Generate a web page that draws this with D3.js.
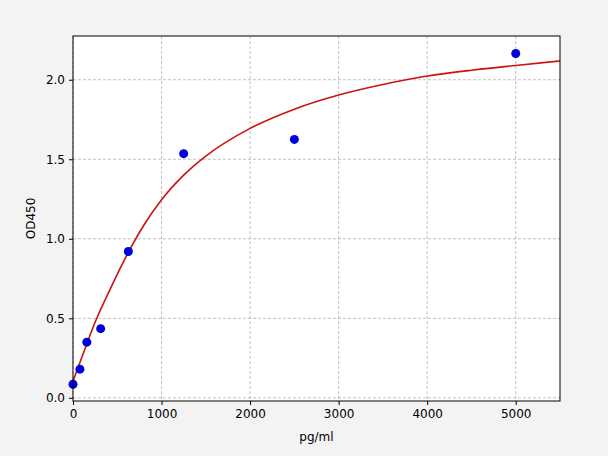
<!DOCTYPE html>
<html>
<head>
<meta charset="utf-8">
<script src="https://cdn.jsdelivr.net/npm/d3@7"></script>
<style>
  body { margin: 0; background: #f3f3f3; }
  svg { display: block; font-family: "DejaVu Sans", sans-serif; }
</style>
</head>
<body>
<div id="chart"></div>
<script>
// standard points (concentration, OD)
const concentrations = [0, 78.125, 156.25, 312.5, 625, 1250, 2500, 5000];
const odValues = [0.085, 0.18, 0.35, 0.435, 0.92, 1.535, 1.625, 2.165];

// fitted curve
const curveX = [0, 100, 268, 400, 625, 800, 1000, 1250, 1500, 2000, 2500, 3000, 3500, 4000, 4500, 5000, 5500];
const curveY = [0.105, 0.255, 0.5, 0.66, 0.915, 1.085, 1.245, 1.40, 1.52, 1.694, 1.815, 1.904, 1.97, 2.023, 2.06, 2.09, 2.118];

const xTicks = [0, 1000, 2000, 3000, 4000, 5000];
const yTicks = [0.0, 0.5, 1.0, 1.5, 2.0];

function createChart() {
  const width = 608, height = 456;
  const margin = { top: 36, right: 48, bottom: 55, left: 73 };

  const svg = d3.select("#chart").append("svg")
    .attr("width", width)
    .attr("height", height);

  const x = d3.scaleLinear().domain([0, 5500]).range([margin.left, width - margin.right]);
  const y = d3.scaleLinear().domain([-0.02, 2.275]).range([height - margin.bottom, margin.top]);

  svg.append("rect")
    .attr("x", margin.left).attr("y", margin.top)
    .attr("width", width - margin.left - margin.right)
    .attr("height", height - margin.top - margin.bottom)
    .attr("fill", "#fff");

  // grid
  const grid = svg.append("g")
    .attr("stroke", "#b0b0b0")
    .attr("stroke-width", 0.8)
    .attr("stroke-dasharray", "3,2");
  grid.selectAll(".gx").data(xTicks).join("line")
    .attr("x1", d => x(d)).attr("x2", d => x(d))
    .attr("y1", margin.top).attr("y2", height - margin.bottom);
  grid.selectAll(".gy").data(yTicks).join("line")
    .attr("y1", d => y(d)).attr("y2", d => y(d))
    .attr("x1", margin.left).attr("x2", width - margin.right);

  // curve
  const line = d3.line()
    .x(d => x(d[0]))
    .y(d => y(d[1]))
    .curve(d3.curveMonotoneX);
  svg.append("path")
    .datum(d3.zip(curveX, curveY))
    .attr("fill", "none")
    .attr("stroke", "#cc1111")
    .attr("stroke-width", 1.6)
    .attr("d", line);

  // points
  svg.append("g")
    .selectAll("circle")
    .data(d3.zip(concentrations, odValues))
    .join("circle")
    .attr("cx", d => x(d[0]))
    .attr("cy", d => y(d[1]))
    .attr("r", 4.5)
    .attr("fill", "#0000dd");

  // frame
  svg.append("rect")
    .attr("x", margin.left).attr("y", margin.top)
    .attr("width", width - margin.left - margin.right)
    .attr("height", height - margin.top - margin.bottom)
    .attr("fill", "none")
    .attr("stroke", "#000")
    .attr("stroke-width", 1);

  // axes
  const xAxis = svg.append("g")
    .attr("transform", `translate(0,${height - margin.bottom})`)
    .call(d3.axisBottom(x).tickValues(xTicks).tickFormat(d3.format("d")).tickSizeOuter(0).tickSize(4).tickPadding(4));
  const yAxis = svg.append("g")
    .attr("transform", `translate(${margin.left},0)`)
    .call(d3.axisLeft(y).tickValues(yTicks).tickFormat(d3.format(".1f")).tickSizeOuter(0).tickSize(4).tickPadding(4));
  [xAxis, yAxis].forEach(a => {
    a.select(".domain").remove();
    a.selectAll("text").attr("font-size", 12).attr("fill", "#000").attr("font-family", "DejaVu Sans");
    a.selectAll("line").attr("stroke", "#000");
  });

  svg.append("text")
    .attr("x", x(2750))
    .attr("y", 441)
    .attr("text-anchor", "middle")
    .attr("font-size", 12)
    .text("pg/ml");

  svg.append("text")
    .attr("transform", `translate(35,${(margin.top + height - margin.bottom) / 2}) rotate(-90)`)
    .attr("text-anchor", "middle")
    .attr("font-size", 12)
    .text("OD450");
}

document.addEventListener("DOMContentLoaded", createChart);
</script>
</body>
</html>
